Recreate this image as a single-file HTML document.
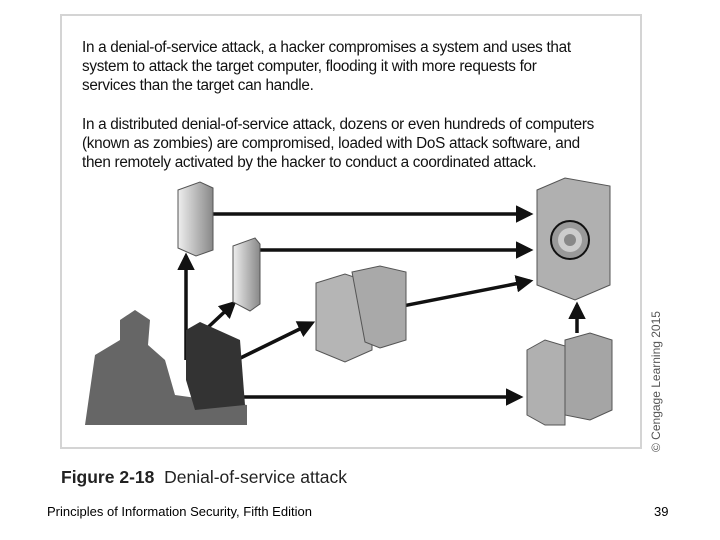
<!DOCTYPE html>
<html><head><style>
body{margin:0;width:720px;height:540px;background:#fff;position:relative;font-family:"Liberation Sans",sans-serif;overflow:hidden}
.frame{position:absolute;left:60px;top:14px;width:582px;height:435px;border:2px solid #d4d4d4;box-sizing:border-box}
.t{position:absolute;left:82px;font-size:15.3px;line-height:19px;color:#111;letter-spacing:-0.3px}
</style></head><body>
<div class="frame"></div>
<div class="t" style="top:38px">In a denial-of-service attack, a hacker compromises a system and uses that<br>system to attack the target computer, flooding it with more requests for<br>services than the target can handle.</div>
<div class="t" style="top:115px">In a distributed denial-of-service attack, dozens or even hundreds of computers<br>(known as zombies) are compromised, loaded with DoS attack software, and<br>then remotely activated by the hacker to conduct a coordinated attack.</div>
<svg width="720" height="540" style="position:absolute;left:0;top:0">
<defs><marker id="a" markerWidth="5" markerHeight="5" refX="4" refY="2.5" orient="auto" markerUnits="strokeWidth"><path d="M0,0L5,2.5L0,5z" fill="#111"/></marker>
<linearGradient id="g" x1="0" x2="1"><stop offset="0" stop-color="#eee"/><stop offset="1" stop-color="#888"/></linearGradient></defs>
<g stroke="#111" stroke-width="3.5" fill="none" marker-end="url(#a)">
<line x1="213" y1="214" x2="530" y2="214"/>
<line x1="258" y1="250" x2="530" y2="250"/>
<line x1="362" y1="314" x2="530" y2="281"/>
<line x1="220" y1="368" x2="312" y2="323"/>
<line x1="203" y1="332" x2="234" y2="303"/>
<line x1="186" y1="360" x2="186" y2="256"/>
<line x1="215" y1="397" x2="520" y2="397"/>
<line x1="577" y1="333" x2="577" y2="305"/>
</g>
<g stroke="#555" stroke-width="1">
<path d="M178,190L200,182L213,188L213,250L196,256L178,248Z" fill="url(#g)"/>
<path d="M233,246L255,238L260,244L260,304L250,311L233,302Z" fill="url(#g)"/>
</g>
<g stroke="#555" fill="#aaa">
<path d="M316,283L345,274L372,283L372,350L345,362L316,350Z" fill="#b5b5b5"/>
<path d="M352,272L380,266L406,272L406,340L380,348L365,342Z" fill="#a9a9a9"/>
</g>
<path d="M537,190L565,178L610,186L610,285L575,300L537,285Z" fill="#b0b0b0" stroke="#555"/>
<circle cx="570" cy="240" r="19" fill="#999" stroke="#111" stroke-width="2"/>
<circle cx="570" cy="240" r="12" fill="#ccc"/><circle cx="570" cy="240" r="6" fill="#888"/>
<path d="M527,350L545,340L565,346L565,425L545,425L527,415Z" fill="#b0b0b0" stroke="#555"/>
<path d="M565,340L590,333L612,340L612,410L590,420L565,415Z" fill="#a5a5a5" stroke="#555"/>
<path d="M85,425L95,355L120,340L120,320L135,310L150,320L148,345L165,360L175,395L247,405L247,425Z" fill="#666"/>
<path d="M186,330L200,322L240,340L245,405L195,410L186,380Z" fill="#333"/>
<text transform="translate(660,452) rotate(-90)" font-size="12" fill="#555" font-family="Liberation Sans">© Cengage Learning 2015</text>
</svg>
<div style="position:absolute;left:61px;top:467px;font-size:17.5px;color:#222"><b>Figure 2-18</b>&nbsp; Denial-of-service attack</div>
<div style="position:absolute;left:47px;top:504px;font-size:13px;color:#000">Principles of Information Security, Fifth Edition</div>
<div style="position:absolute;left:654px;top:504px;font-size:13px;color:#000">39</div>
</body></html>
